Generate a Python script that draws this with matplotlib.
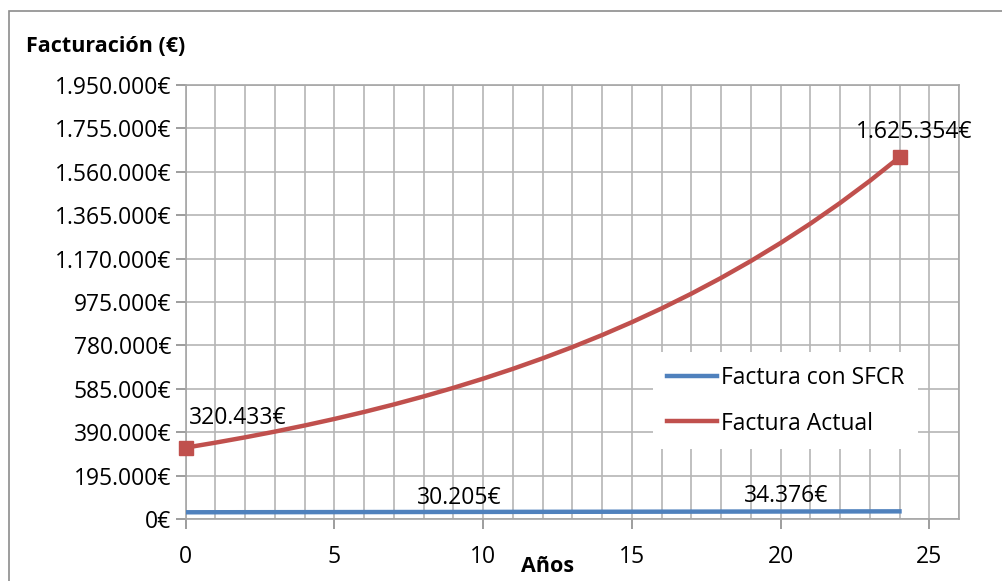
import matplotlib
matplotlib.use("Agg")
import matplotlib.pyplot as plt
from matplotlib.ticker import FuncFormatter, MultipleLocator
from matplotlib.patches import Rectangle

plt.rcParams['font.family'] = ['Open Sans', 'DejaVu Sans']

years = list(range(0, 25))
factura_actual = [320433, 342863, 366864, 392544, 420022, 449423, 480883, 514545,
                  550563, 589102, 630339, 674463, 721675, 772193, 826246, 884083,
                  945969, 1012187, 1083040, 1158853, 1239972, 1326771, 1419645,
                  1519020, 1625354]
factura_sfcr = [30205, 30370, 30535, 30700, 30865, 31030, 31200, 31370, 31540,
                31710, 31880, 32050, 32225, 32400, 32575, 32750, 32930, 33110,
                33290, 33470, 33650, 33830, 34010, 34190, 34376]
y_ticks = list(range(0, 1950001, 195000))
x_ticks = [0, 5, 10, 15, 20, 25]

W, H = 1002, 581
fig = plt.figure(figsize=(W / 100, H / 100), dpi=100)
fig.patch.set_facecolor('white')
fig.patches.append(Rectangle((9 / W, -0.1), 1.2, 1 - 11 / H + 0.1, transform=fig.transFigure,
                             fill=False, edgecolor='#8c8c8c', linewidth=1.2))

ax = fig.add_axes([185.5 / W, 1 - 519 / H, (959 - 185.5) / W, (519 - 85) / H])
blue = '#4F81BD'
red = '#C0504D'
ax.plot(years, factura_sfcr, color=blue, linewidth=3.2, label='Factura con SFCR', zorder=3)
ax.plot(years, factura_actual, color=red, linewidth=3.2, label='Factura Actual', zorder=3)
ax.plot([years[0], years[-1]], [factura_actual[0], factura_actual[-1]], 's',
        color=red, markersize=10, zorder=4, clip_on=False)

ax.set_xlim(0, 26)
ax.set_ylim(0, 1950000)
ax.set_yticks(y_ticks)
ax.set_xticks(x_ticks)
ax.xaxis.set_minor_locator(MultipleLocator(1))
fmt = lambda v, p: (f"{int(v):,}".replace(',', '.') + '€')
ax.yaxis.set_major_formatter(FuncFormatter(fmt))
ax.grid(True, which='both', axis='x', color='#b5b5b5', linewidth=1.2, zorder=0)
ax.grid(True, which='major', axis='y', color='#b5b5b5', linewidth=1.2, zorder=0)
for s in ax.spines.values():
    s.set_color('#a6a6a6')
    s.set_linewidth(1.2)
FS = 16.5
ax.tick_params(axis='both', which='major', labelsize=FS, color='#8c8c8c', length=7, width=1.2)
ax.tick_params(axis='x', which='minor', length=0)
ax.tick_params(axis='y', pad=3)
ax.tick_params(axis='x', pad=12)

ax.text(0.1, factura_actual[0] + 80000, fmt(factura_actual[0], None), fontsize=FS, ha='left', va='bottom')
ax.text(24.5, factura_actual[-1] + 60000, fmt(factura_actual[-1], None), fontsize=FS, ha='center', va='bottom')
ax.text(9.2, factura_sfcr[0] + 12000, fmt(factura_sfcr[0], None), fontsize=FS, ha='center', va='bottom')
ax.text(20.2, factura_sfcr[-1] + 14000, fmt(factura_sfcr[-1], None), fontsize=FS, ha='center', va='bottom')

fig.text(26 / W, 1 - 46 / H, 'Facturación (€)', fontsize=15.5, fontweight='bold', ha='left', va='center')
fig.text(548 / W, 1 - 566 / H, 'Años', fontsize=15.5, fontweight='bold', ha='center', va='center')

leg = ax.legend(loc='upper left', bbox_to_anchor=((653 - 185.5) / (959 - 185.5), 1 - (352 - 85) / (519 - 85)),
                frameon=True, fontsize=FS, handlelength=2.2, handletextpad=0.15,
                labelspacing=0.95, borderpad=0.6, borderaxespad=0)
leg.get_frame().set_edgecolor('none')
leg.get_frame().set_facecolor('white')
leg.get_frame().set_alpha(1)
leg.get_frame().set_boxstyle('square', pad=0)

fig.savefig('out.png', dpi=100)
